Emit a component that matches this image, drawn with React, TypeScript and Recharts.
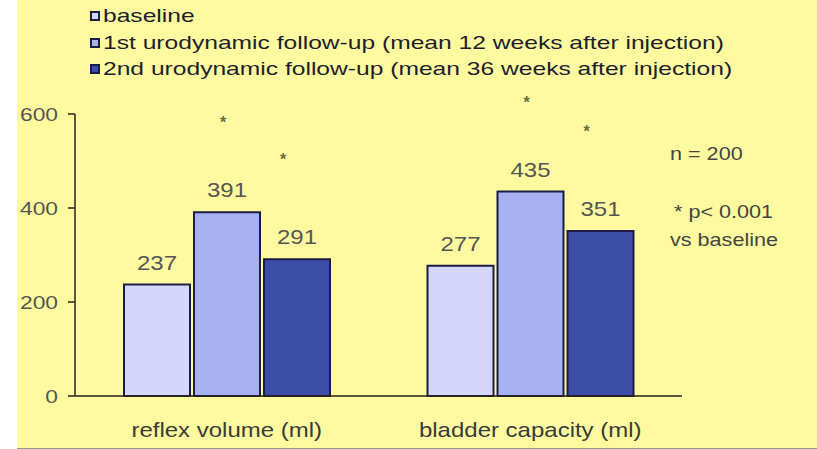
import { Bar, BarChart, LabelList, Legend, XAxis, YAxis } from "recharts";

const categories = ["reflex volume (ml)", "bladder capacity (ml)"];
const baseline = [237, 277];
const followUp1 = [391, 435];
const followUp2 = [291, 351];
const marks1 = ["*", "*"];
const marks2 = ["*", "*"];
const seriesNames = [
  "baseline",
  "1st urodynamic follow-up (mean 12 weeks after injection)",
  "2nd urodynamic follow-up (mean 36 weeks after injection)",
];
const yTicks = [0, 200, 400, 600];
const notes = ["n = 200", "* p< 0.001", "vs baseline"];

const FONT = "'Liberation Sans', Arial, sans-serif";
const STRETCH = 1.2;
const BG = "#fffa9f";
const EDGE = "#1c1c48";
const COLORS = ["#d5d7f9", "#a7b2f3", "#3d4ca6"];

const data = categories.map((name, i) => ({
  name,
  baseline: baseline[i],
  followUp1: followUp1[i],
  followUp2: followUp2[i],
  mark1: marks1[i],
  mark2: marks2[i],
}));

function SText({ x, y, anchor = "start", size = 18, fill = "#444", children }: {
  x: number;
  y: number;
  anchor?: "start" | "middle" | "end";
  size?: number;
  fill?: string;
  children: React.ReactNode;
}) {
  return (
    <g transform={`translate(${x},${y}) scale(${STRETCH},1)`}>
      <text x={0} y={0} textAnchor={anchor} fontSize={size} fill={fill} fontFamily={FONT}>
        {children}
      </text>
    </g>
  );
}

function YTick({ x, y, payload }: any) {
  return (
    <SText x={x} y={y + 7} anchor="end" size={19} fill="#555">
      {payload.value}
    </SText>
  );
}

function XTick({ x, y, payload }: any) {
  return (
    <SText x={x} y={y + 33} anchor="middle" size={20} fill="#3a3a3a">
      {payload.value}
    </SText>
  );
}

function ValueLabel({ x, y, width, value }: any) {
  return (
    <SText x={x + width / 2} y={y - 15} anchor="middle" size={20} fill="#555">
      {value}
    </SText>
  );
}

function markLabel(dx: number, dy: number) {
  return ({ x, y, width, value }: any) => (
    <text x={x + width / 2 + dx} y={y + dy} textAnchor="middle" fontSize={16} fontWeight="bold" fill="#6b6b40" fontFamily={FONT}>
      {value}
    </text>
  );
}

function LegendBox({ payload }: any) {
  const items = [...(payload || [])].sort(
    (a: any, b: any) => seriesNames.indexOf(a.value) - seriesNames.indexOf(b.value)
  );
  return (
    <div style={{ fontFamily: FONT, fontSize: 18.5, color: "#1e1e2e", lineHeight: "26.5px" }}>
      {items.map((entry: any) => (
        <div key={entry.value} style={{ display: "flex", alignItems: "center", height: 26.5 }}>
          <span
            style={{
              width: 6,
              height: 6,
              border: `2px solid ${EDGE}`,
              background: entry.color,
              marginRight: 3,
              display: "inline-block",
            }}
          />
          <span style={{ display: "inline-block", transform: "scaleX(1.33)", transformOrigin: "left center", whiteSpace: "nowrap" }}>
            {entry.value}
          </span>
        </div>
      ))}
    </div>
  );
}

export default function App() {
  return (
    <div style={{ position: "absolute", left: 0, top: 0, width: 817, height: 449, background: "#fff" }}>
      <div
        style={{
          position: "absolute",
          left: 17,
          top: 0,
          width: 800,
          height: 448,
          background: BG,
          borderBottom: "1px solid #8f9c86",
        }}
      />
      <div style={{ position: "absolute", left: 0, top: 0 }}>
        <BarChart
          width={817}
          height={449}
          data={data}
          margin={{ top: 114, right: 135, left: 0, bottom: 23 }}
          barSize={66}
          barGap={4}
        >
          <Legend
            layout="vertical"
            align="center"
            verticalAlign="middle"
            wrapperStyle={{ left: 90, top: 3, width: 700 }}
            content={<LegendBox />}
          />
          <XAxis
            dataKey="name"
            tick={<XTick />}
            tickLine={false}
            axisLine={{ stroke: "#2a2222", strokeWidth: 1.5 }}
            height={30}
          />
          <YAxis
            domain={[0, 600]}
            ticks={yTicks}
            width={75}
            tick={<YTick />}
            tickSize={7}
            tickMargin={10}
            tickLine={{ stroke: "#2a2222", strokeWidth: 1.5 }}
            axisLine={{ stroke: "#2a2222", strokeWidth: 1.5 }}
          />
          <Bar dataKey="baseline" name={seriesNames[0]} fill={COLORS[0]} stroke={EDGE} strokeWidth={2} isAnimationActive={false}>
            <LabelList dataKey="baseline" content={<ValueLabel />} />
          </Bar>
          <Bar dataKey="followUp1" name={seriesNames[1]} fill={COLORS[1]} stroke={EDGE} strokeWidth={2} isAnimationActive={false}>
            <LabelList dataKey="followUp1" content={<ValueLabel />} />
            <LabelList dataKey="mark1" content={markLabel(-4, -84)} />
          </Bar>
          <Bar dataKey="followUp2" name={seriesNames[2]} fill={COLORS[2]} stroke={EDGE} strokeWidth={2} isAnimationActive={false}>
            <LabelList dataKey="followUp2" content={<ValueLabel />} />
            <LabelList dataKey="mark2" content={markLabel(-14, -94)} />
          </Bar>
          <g>
            <SText x={670} y={160} size={18} fill="#444">{notes[0]}</SText>
            <SText x={674} y={218} size={18} fill="#444">{notes[1]}</SText>
            <SText x={670} y={246} size={18} fill="#444">{notes[2]}</SText>
          </g>
        </BarChart>
      </div>
    </div>
  );
}
